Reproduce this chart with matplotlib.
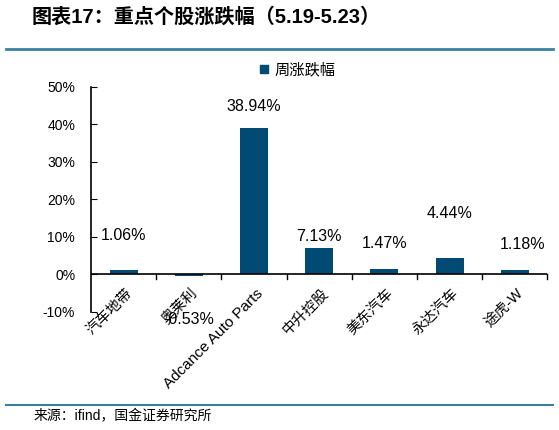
import numpy as np
import matplotlib.pyplot as plt
from matplotlib.lines import Line2D

plt.rcParams['font.family'] = ['Liberation Sans', 'Noto Sans CJK SC', 'DejaVu Sans']

# 数据
names = ['汽车地带', '奥莱利', 'Adcance Auto Parts', '中升控股', '美东汽车', '永达汽车', '途虎-W']
changes = [1.06, -0.53, 38.94, 7.13, 1.47, 4.44, 1.18]
yticks = [-10, 0, 10, 20, 30, 40, 50]

# 数据标签的偏移 (点)
label_dx = [0, 0, 0, 0, 0, 0, 6]
label_dy = [25, -31, 16, 8, 18, 32, 18]

bar_color = '#004A73'
line_color = '#3C7EA0'

fig = plt.figure(figsize=(5.59, 4.30), dpi=100)
ax = fig.add_axes([0.163, 0.275, 0.816, 0.523])

x = np.arange(len(names))
ax.bar(x, changes, width=0.43, color=bar_color, label='周涨跌幅')

for i, v in enumerate(changes):
    ax.annotate('%.2f%%' % v, (x[i], v), xytext=(label_dx[i], label_dy[i]),
                textcoords='offset points', ha='center', va='center', fontsize=11.5)

ax.set_xlim(-0.5, len(names) - 0.5)
ax.set_ylim(-10, 50)
ax.set_yticks(yticks)
ax.set_yticklabels(['%d%%' % t for t in yticks], fontsize=10)
ax.tick_params(axis='y', direction='in', length=4, pad=11.5)

for s in ['top', 'right', 'bottom']:
    ax.spines[s].set_visible(False)
ax.spines['left'].set_linewidth(1.2)
ax.axhline(0, color='black', lw=1.2)

# x轴刻度(分隔线)
ax.set_xticks([])
for b in np.arange(0.5, len(names), 1.0):
    ax.plot([b, b], [0, -1.3], color='black', lw=1.0, clip_on=False)

for i, n in enumerate(names):
    fs = 11 if n.startswith('Ad') else 10.5
    ax.text(x[i] + 0.03, -3.2, n, rotation=45, ha='right', va='top',
            rotation_mode='anchor', fontsize=fs)

# 图例
fig.legend(handles=[Line2D([], [], marker='s', ls='', color=bar_color, markersize=6)],
           labels=['周涨跌幅'], loc='center', bbox_to_anchor=(0.53, 0.837),
           frameon=False, fontsize=11, handletextpad=0.2, handlelength=1)

# 标题和来源
fig.text(0.057, 0.96, '图表17：重点个股涨跌幅（5.19-5.23）', fontsize=14.5, fontweight='bold',
         ha='left', va='center')
fig.add_artist(Line2D([0.01, 0.99], [0.886, 0.886], color=line_color, lw=2))
fig.add_artist(Line2D([0.01, 0.99], [0.058, 0.058], color=line_color, lw=1.5))
fig.text(0.06, 0.032, '来源：ifind，国金证券研究所', fontsize=10, ha='left', va='center')

plt.savefig('out.png', dpi=100)
